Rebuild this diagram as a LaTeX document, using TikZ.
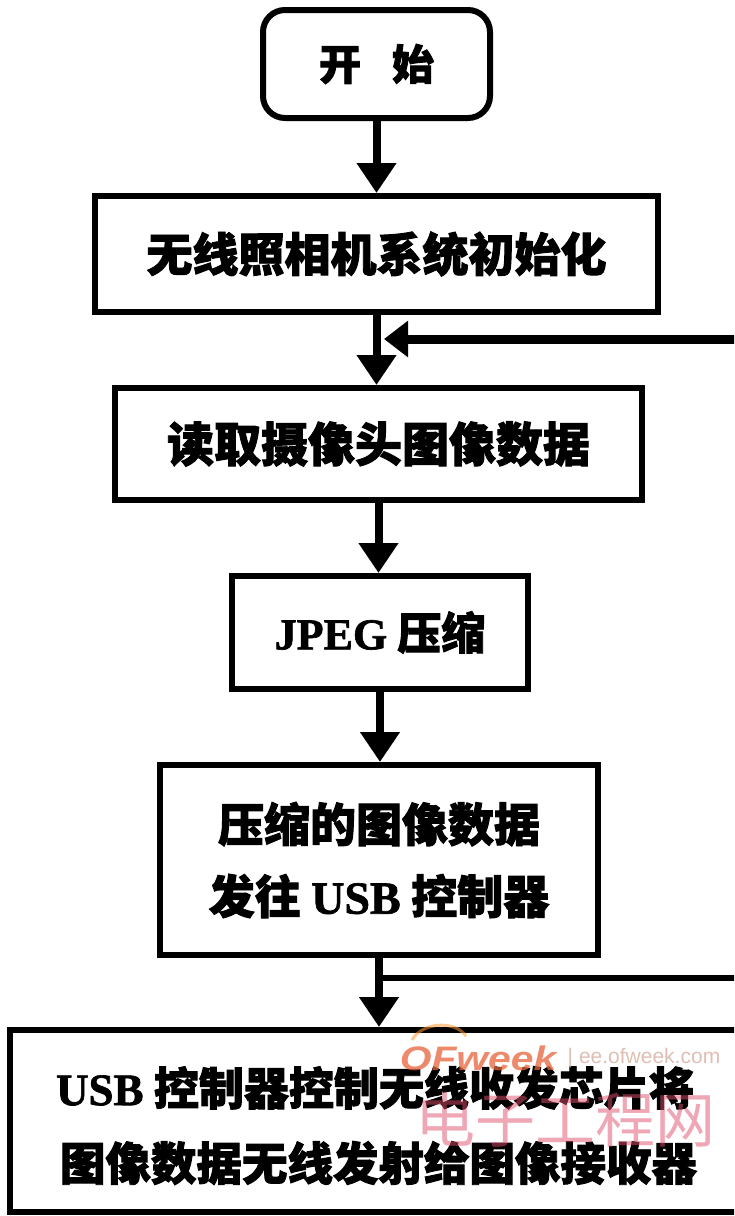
\documentclass[tikz,border=0pt]{standalone}
\usepackage{fontspec}
\setmainfont{Liberation Serif}[BoldFeatures={FakeBold=1.5}]
\newfontfamily\cjk{Noto Sans CJK SC}[BoldFeatures={FakeBold=2}]
\newfontfamily\wmsans{Liberation Sans}
\usetikzlibrary{arrows.meta}
\newcommand\latx[1]{{\rmfamily\bfseries #1}}
\definecolor{wmorange}{RGB}{232,100,60}
\definecolor{wmgray}{RGB}{215,175,160}
\definecolor{wmpink}{RGB}{225,80,110}
\begin{document}
\begin{tikzpicture}[x=1pt,y=-1pt,
  box/.style={draw, line width=6pt, inner sep=0pt, align=center, text=black},
  arr/.style={line width=8pt, -{Triangle[width=38pt,length=30pt]}},
  loopline/.style={line width=9pt},
  branchline/.style={line width=6pt},
  cjkbig/.style={font=\cjk\bfseries\fontsize{#1}{#1}\selectfont},
  plaintext/.style={inner sep=0pt, align=center},
]
\useasboundingbox (0,0) rectangle (734,1216);
\clip (0,0) rectangle (734,1216);
\fill[white] (0,0) rectangle (734,1216);

\node[box, rounded corners=22pt, minimum width=227pt, minimum height=108pt, cjkbig=42] (start) at (376.5,64) {\raisebox{-6pt}{开\hspace{31pt}始}};
\node[box, minimum width=563pt, minimum height=116pt, cjkbig=46] (init) at (376.5,254) {\raisebox{-4pt}{无线照相机系统初始化}};
\node[box, minimum width=527pt, minimum height=112pt, cjkbig=47] (read) at (378.5,444) {\raisebox{-5pt}{读取摄像头图像数据}};
\node[box, minimum width=296pt, minimum height=113pt, cjkbig=44] (jpeg) at (380,632.5) {\latx{JPEG} 压缩};
\node[box, minimum width=438pt, minimum height=190pt, cjkbig=46] (send) at (379,860) {压缩的图像数据\\[26pt]发往 \latx{USB} 控制器};
\node[box, minimum width=734pt, minimum height=182pt] (tx) at (377,1121) {};
\node[plaintext, cjkbig=45] (txa) at (375,1088) {\latx{USB} 控制器控制无线收发芯片将};
\node[plaintext, cjkbig=45.5] (txb) at (378.5,1163) {图像数据无线发射给图像接收器};

\draw[arr] (start.south) -- (start.south |- init.north);
\draw[arr] (init.south) -- (init.south |- read.north);
\draw[arr] (read.south) -- (read.south |- jpeg.north);
\draw[arr] (jpeg.south) -- (jpeg.south |- send.north);
\draw[arr] (send.south) -- (send.south |- tx.north);

\coordinate (loopin) at (745,339);
\coordinate (loopend) at (384,339);
\draw[loopline, -{Triangle[width=35pt,length=24pt]}] (loopin) -- (loopend);

\coordinate (branch) at (379,978);
\coordinate (loopout) at (745,978);
\draw[branchline] (branch) -- (loopout);

% watermark
\draw[orange!80, line width=3pt, opacity=0.55] (412,1040) .. controls (422,1022) and (455,1020) .. (466,1036);
\node[text=wmorange, opacity=0.75, xscale=1.2, font=\wmsans\bfseries\itshape\fontsize{34}{34}\selectfont] (wm1) at (478,1058) {OFweek};
\node[text=wmgray, opacity=0.8, font=\wmsans\fontsize{21}{21}\selectfont] (wm2) at (644,1058) {\textbar\ ee.ofweek.com};
\node[text=wmpink, opacity=0.5, font=\cjk\fontsize{60}{60}\selectfont] (wm3) at (565,1120) {电子工程网};
\end{tikzpicture}
\end{document}
